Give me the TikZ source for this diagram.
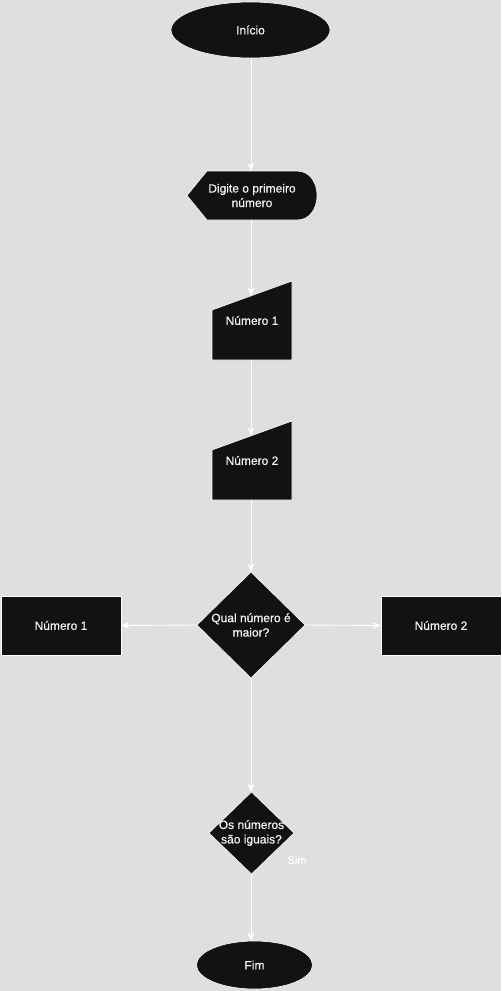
\documentclass[tikz,border=0pt]{standalone}
\usepackage{fontspec}
\setmainfont{Liberation Sans}
\newfontfamily\labelfont{Liberation Sans}[FakeBold=0.6]
\usetikzlibrary{shapes.geometric,arrows.meta}
\definecolor{canvas}{HTML}{DFDFDF}
\definecolor{ink}{HTML}{121212}
\definecolor{label}{HTML}{F4F4F4}
\begin{document}
\begin{tikzpicture}[x=1pt,y=-1pt,
  txt/.style={font=\labelfont\fontsize{12}{14.5}\selectfont, text=label, align=center, inner sep=0pt},
  shapebox/.style={fill=ink, draw=white, line width=0.6pt},
  term/.style={txt, shapebox, ellipse},
  procbox/.style={txt, shapebox, rectangle},
  conn/.style={draw=white, line width=0.9pt, -{Stealth[length=8pt,width=7pt,inset=2.5pt]}}
]
\fill[canvas] (0,0) rectangle (501,991);
\useasboundingbox (0,0) rectangle (501,991);

% start / end terminals
\node[term, minimum width=159pt, minimum height=56pt] (inicio) at (250.5,30) {Início};
\node[term, minimum width=116pt, minimum height=48pt] (fim) at (254.5,965) {Fim};

% display: prompt for the first number
\fill[shapebox] (187,195.5) -- (207,171) -- (297,171)
  .. controls (323.7,171) and (323.7,220) .. (297,220) -- (207,220) -- cycle;
\node[txt, minimum width=130pt, minimum height=49pt] (prompt) at (252,195.5) {Digite o primeiro\\número};

% manual inputs
\fill[shapebox] (212,310) -- (292,281) -- (292,360) -- (212,360) -- cycle;
\node[txt, minimum width=80pt, minimum height=79pt] (num1) at (252,320.5) {Número 1};
\coordinate (num1top) at (251,295.5);

\fill[shapebox] (212,450) -- (292,421) -- (292,500) -- (212,500) -- cycle;
\node[txt, minimum width=80pt, minimum height=79pt] (num2) at (252,460.5) {Número 2};
\coordinate (num2top) at (251,435.5);

% decisions, drawn as explicit rhombi
\fill[shapebox] (197,625) -- (251,572) -- (305,625) -- (251,678) -- cycle;
\node[txt, minimum width=108pt, minimum height=106pt] (maior) at (251,625) {Qual número é\\maior?};
\fill[shapebox] (209,833) -- (251.5,792) -- (294,833) -- (251.5,874) -- cycle;
\node[txt, minimum width=85pt, minimum height=82pt] (iguais) at (251.5,833) {Os números\\são iguais?};

% outcomes
\node[procbox, minimum width=120pt, minimum height=59pt] (res1) at (61,625.5) {Número 1};
\node[procbox, minimum width=120pt, minimum height=59pt] (res2) at (441,625.5) {Número 2};

% connectors
\draw[conn] (inicio.south -| 251,0) -- (251,171);
\draw[conn] (251,220) -- (num1top);
\draw[conn] (251,360) -- (num2top);
\draw[conn] (251,500) -- (maior.north -| 251,0);
\draw[conn] (maior.west) -- (res1.east);
\draw[conn] (maior.east) -- (res2.west);
\draw[conn] (maior.south -| 251,0) -- (iguais.north -| 251,0);
\draw[conn] (iguais.south -| 251,0) -- (fim.north -| 251,0);
\node[font=\labelfont\fontsize{11}{13}\selectfont, text=white, inner sep=0pt] (sim) at (297,860) {Sim};
\end{tikzpicture}
\end{document}
